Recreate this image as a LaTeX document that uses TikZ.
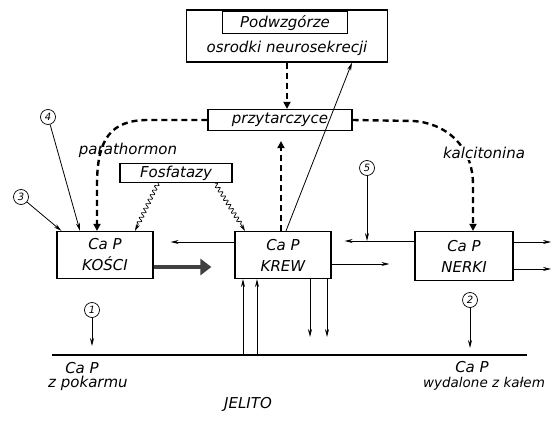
\documentclass[tikz,border=0pt]{standalone}
\usepackage{fontspec}
\setmainfont{DejaVu Sans}
\usepackage{tikz}
\usetikzlibrary{positioning,arrows.meta,decorations.pathmorphing}

\begin{document}
\begin{tikzpicture}[x=1pt,y=-1pt,
	every node/.style={font=\itshape\fontsize{15}{21}\selectfont},
	box/.style={draw,line width=1.2pt,minimum width=96pt,minimum height=47pt,align=center,inner sep=0pt},
	num/.style={draw,circle,line width=0.7pt,inner sep=0pt,minimum size=15pt,font=\itshape\fontsize{10}{10}\selectfont},
	arr/.style={line width=0.8pt,-{Stealth[length=8pt,width=4pt]}},
	hormon/.style={line width=2.4pt,dash pattern=on 6pt off 4pt,-{Triangle[length=7pt,width=7pt]}},
	enzym/.style={line width=0.7pt,decorate,decoration={snake,amplitude=2pt,segment length=5pt,post length=7pt},-{Stealth[length=7pt,width=4pt]}}]
				\useasboundingbox (0,0) rectangle (551,438);
				% boxes
				\node[box] (kosci) at (105,255) {Ca P\\KOŚCI};
				\node[box] (krew) at (283,255) {Ca P\\KREW};
				\node[box,minimum width=98pt,minimum height=49pt] (nerki) at (464,256) {Ca P\\NERKI};
				\node[draw,line width=1.2pt,minimum width=144pt,minimum height=21pt,inner sep=0pt] (przyt) at (280,120) {przytarczyce};
				\node[draw,line width=1.2pt,minimum width=112pt,minimum height=19pt,inner sep=0pt] (fosf) at (176,173) {Fosfatazy};
				\node[draw,line width=1.2pt,minimum width=201pt,minimum height=52pt] (podw) at (287,36) {};
				\node[draw,line width=1.2pt,minimum width=125pt,minimum height=22pt,inner sep=0pt,anchor=north] (podwz) at (285,11) {Podwzgórze};
				\node (osrod) at (287,48) {osrodki neurosekrecji};
				% hormones
				\draw[hormon] (podw.south) -- (podw.south |- przyt.north);
				\draw[hormon,shorten >=10pt] ([xshift=-2pt]krew.north) -- ([xshift=-2pt]krew.north |- przyt.south);
				\draw[arr] ([xshift=3pt]krew.north) -- ([xshift=65pt]podw.south);
				\draw[hormon] (przyt.west) -- (148,120) .. controls (110,120) and (97,140) .. (97,185) -- ([xshift=-8pt]kosci.north);
				\draw[hormon] (przyt.east) -- (413,121) .. controls (445,123) and (473,145) .. (473,185) -- ([xshift=9pt]nerki.north);
				\node (parat) at (128,150) {parathormon};
				\node[fill=white,inner sep=1pt] (kalc) at (484,153) {kalcitonina};
				% enzymes
				\draw[enzym] ([xshift=-18pt]fosf.south) -- ([xshift=30pt]kosci.north);
				\draw[enzym] ([xshift=39pt]fosf.south) -- ([xshift=-38pt]krew.north);
				% numbered inputs
				\node[num] (n4) at (48,117) {4};
				\node[num] (n3) at (21,197) {3};
				\node[num] (n5) at (367,168) {5};
				\node[num] (n1) at (92,310) {1};
				\node[num] (n2) at (470,300) {2};
				\draw[arr] (n4) -- ([xshift=-25pt]kosci.north);
				\draw[arr] (n3) -- ([xshift=5pt]kosci.north west);
				% exchange between boxes
				\draw[arr,shorten >=17pt] ([yshift=13pt]krew.west) -- ([yshift=13pt]krew.west -| kosci.east);
				\draw[line width=4.5pt,black!75,-{Triangle[length=11pt,width=16pt]},shorten >=23pt] ([yshift=-12pt]kosci.east) -- ([yshift=-12pt]kosci.east -| krew.west);
				\coordinate (nl) at ([yshift=15pt]nerki.west);
				\draw[arr,shorten >=13pt] (nl) -- (nl -| krew.east);
				\draw[arr] (n5) -- (n5 |- nl);
				\draw[arr,shorten >=25pt] ([yshift=-9pt]krew.east) -- ([yshift=-9pt]krew.east -| nerki.west);
				\coordinate (out1) at (551,242);
				\coordinate (out2) at (551,269);
				\draw[arr] (nerki.east |- out1) -- (out1);
				\draw[arr] (nerki.east |- out2) -- (out2);
				% jelito
				\coordinate (gl) at (52,355);
				\coordinate (gr) at (527,355);
				\draw[line width=1.2pt] (gl) -- (gr);
				\path ([xshift=-40pt]krew.south) coordinate (u1) ([xshift=-26pt]krew.south) coordinate (u2);
				\path ([xshift=27pt]krew.south) coordinate (d1) ([xshift=44pt]krew.south) coordinate (d2);
				\draw[arr] (gl -| u1) -- (u1);
				\draw[arr] (gl -| u2) -- (u2);
				\draw[arr,shorten >=18pt] (d1) -- (gl -| d1);
				\draw[arr,shorten >=18pt] (d2) -- (gl -| d2);
				\draw[arr,shorten >=9pt] (n1) -- (n1 |- gl);
				\draw[arr,shorten >=7pt] (n2) -- (n2 |- gl);
				\node (pokca) at (82,368) {Ca P};
				\node (pokz) at (88,383) {z pokarmu};
				\node (wydca) at (472,367) {Ca P};
				\node[font=\itshape\fontsize{13.5}{16}\selectfont] (wydz) at (484,384) {wydalone z kałem};
				\node (jelito) at (248,404) {JELITO};
			\end{tikzpicture}
\end{document}
